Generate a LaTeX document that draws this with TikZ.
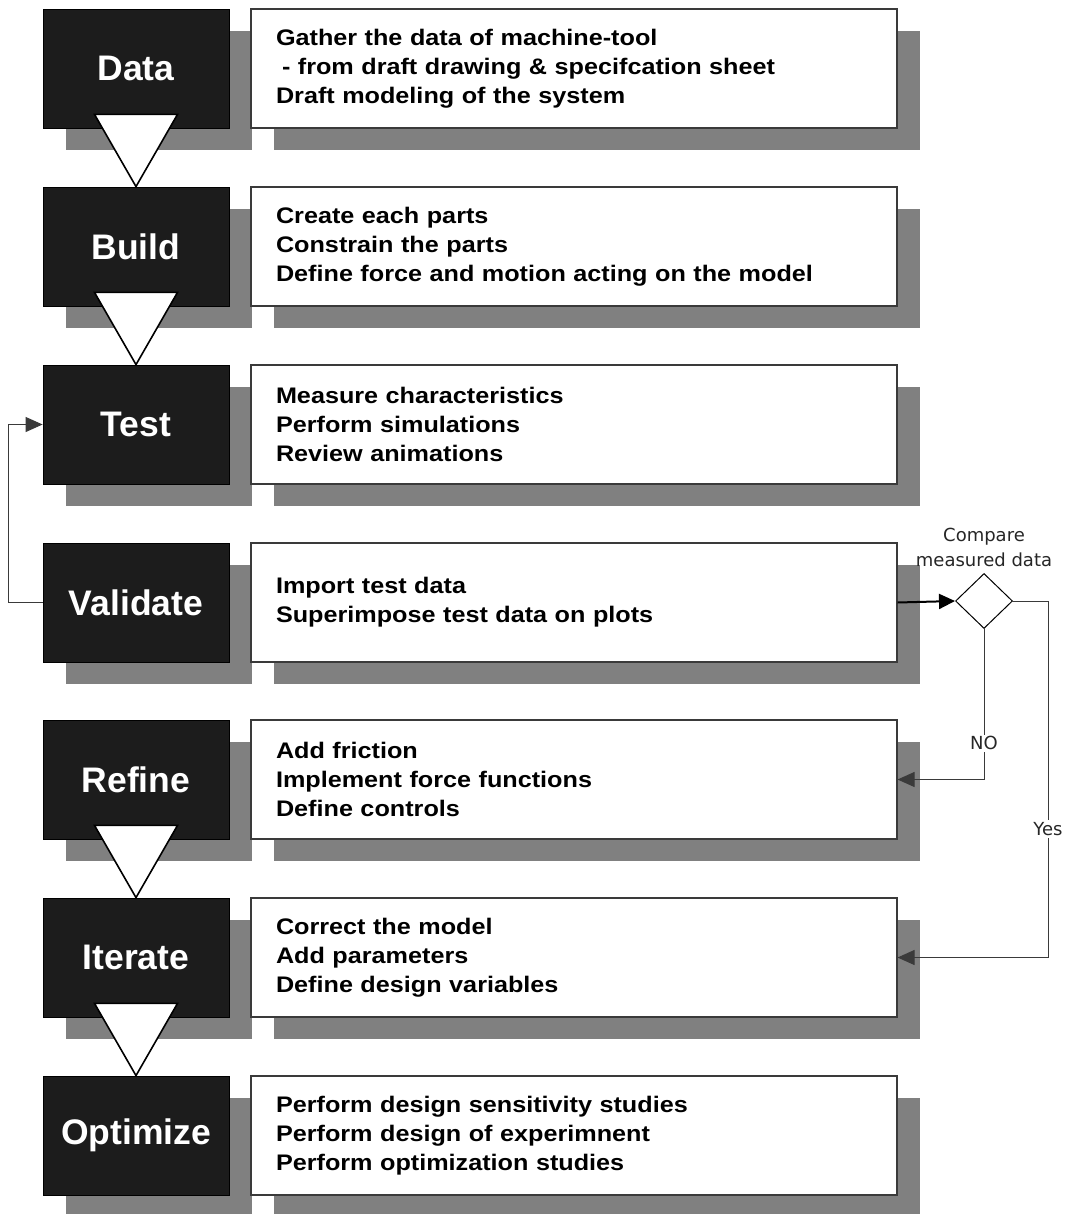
\documentclass[tikz,border=0pt]{standalone}
\usepackage{fontspec}
\setmainfont{Liberation Sans}
\newfontfamily\bodyfont{Liberation Sans}[FakeStretch=1.12]
\newfontfamily\notefont{DejaVu Sans}
\usetikzlibrary{shapes.geometric,arrows.meta,shadows}

\definecolor{stageblack}{HTML}{1C1C1C}
\definecolor{shadowgray}{HTML}{808080}
\definecolor{wiregray}{HTML}{3A3A3A}

\begin{document}
\begin{tikzpicture}[x=1pt,y=-1pt,
  boxshadow/.style={drop shadow={shadow xshift=23pt,shadow yshift=-22pt,fill=shadowgray,opacity=1}},
  stage/.style={boxshadow,draw=black,line width=0.8pt,fill=stageblack,
    minimum width=186pt,minimum height=119pt,inner sep=0pt,text=white,
    font=\bfseries\fontsize{35.5}{40}\selectfont},
  detail/.style={boxshadow,draw=wiregray,line width=1.1pt,fill=white,
    minimum height=119pt,text width=596pt,inner xsep=25pt,inner ysep=0pt,
    align=left,font=\bodyfont\bfseries\fontsize{22.5}{29}\selectfont},
  flowtri/.style={draw=black,line width=1.6pt,fill=white,line join=miter},
  wire/.style={draw=wiregray,line width=1pt,-{Triangle[length=17pt,width=15pt]}},
  mainwire/.style={draw=black,line width=2pt,-{Triangle[length=16pt,width=15pt]}},
  decision/.style={diamond,draw=black,line width=1pt,fill=white,
    minimum width=57pt,minimum height=55pt,inner sep=0pt},
  note/.style={font=\notefont\fontsize{18}{25}\selectfont,align=center,text=black!85},
  tag/.style={note,fill=white,inner sep=2pt}]

\useasboundingbox (0,0) rectangle (1071,1214);

% stage boxes with their descriptions
\node[stage] (data) at (136,68.5) {Data};
\node[detail] (datatxt) at (574,68.5) {Gather the data of machine-tool\\
  \hspace*{6pt}- from draft drawing \& specifcation sheet\\
  Draft modeling of the system};

\node[stage] (build) at (136,246.5) {Build};
\node[detail] (buildtxt) at (574,246.5) {Create each parts\\
  Constrain the parts\\
  Define force and motion acting on the model};

\node[stage] (test) at (136,424.5) {Test};
\node[detail] (testtxt) at (574,424.5) {Measure characteristics\\
  Perform simulations\\
  Review animations};

\node[stage] (validate) at (136,602.5) {Validate};
\node[detail] (validatetxt) at (574,602.5) {Import test data\\
  Superimpose test data on plots};

\node[stage] (refine) at (136,779.5) {Refine};
\node[detail] (refinetxt) at (574,779.5) {Add friction\\
  Implement force functions\\
  Define controls};

\node[stage] (iterate) at (136,957.5) {Iterate};
\node[detail] (iteratetxt) at (574,957.5) {Correct the model\\
  Add parameters\\
  Define design variables};

\node[stage] (optimize) at (136,1135.5) {Optimize};
\node[detail] (optimizetxt) at (574,1135.5) {Perform design sensitivity studies\\
  Perform design of experimnent\\
  Perform optimization studies};

% downward flow triangles between consecutive stages
\foreach \a/\b in {data/build,build/test,refine/iterate,iterate/optimize}{
  \draw[flowtri] ([xshift=-41.5pt,yshift=14pt]\a.south) --
    ([xshift=41.5pt,yshift=14pt]\a.south) -- (\b.north) -- cycle;
}

% comparison step
\node[decision] (cmp) at (984,601) {};
\node[note,anchor=south] (cmplabel) at (984,570) {Compare\\measured data};
\coordinate (yescorner) at (1048,601);

\draw[mainwire] (validatetxt.east) -- (cmp.west);
\draw[wire] (cmp.south) |- node[tag,pos=0.38] {NO} (refinetxt.east);
\draw[wire] (cmp.east) -- (yescorner) |- node[tag,pos=0.32] {Yes} (iteratetxt.east);

% loop back from validation to testing
\coordinate (loopcorner) at (8,602.5);
\draw[wire] (validate.west) -- (loopcorner) |- (test.west);

\end{tikzpicture}
\end{document}
